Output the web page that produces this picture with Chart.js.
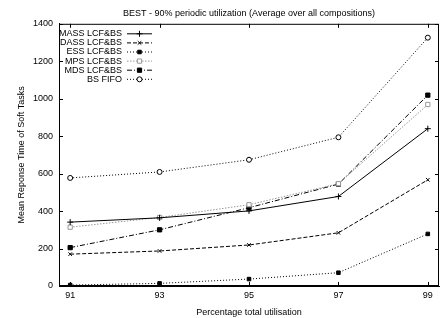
<!DOCTYPE html>
<html>
<head>
<meta charset="utf-8">
<script src="https://cdn.jsdelivr.net/npm/chart.js@4"></script>
<style>
  html, body { margin: 0; padding: 0; background: #fff; }
  #wrap { width: 444px; height: 318px; }
</style>
</head>
<body>
<div id="wrap"><canvas id="myChart" width="444" height="318"></canvas></div>
<script>
const utilisation = [91, 93, 95, 97, 99];
const yTicks = [0, 200, 400, 600, 800, 1000, 1200, 1400];

const massValues = [341, 364, 401, 478, 840];
const dassValues = [170, 187, 219, 284, 567];
const essValues  = [5, 14, 37, 71, 278];
const mpsValues  = [314, 366, 434, 546, 969];
const mdsValues  = [205, 300, 418, 544, 1019];
const fifoValues = [577, 609, 674, 794, 1326];

const FONT = '"Liberation Sans", Arial, Helvetica, sans-serif';

function pts(values) {
    return utilisation.map((u, i) => ({ x: u, y: values[i] }));
}

function series(label, values, color, dash, style, radius, fill) {
    return {
        label: label,
        data: pts(values),
        borderColor: color,
        backgroundColor: fill,
        borderWidth: 1,
        borderDash: dash,
        pointStyle: style,
        pointRadius: radius,
        pointBorderColor: color,
        pointBackgroundColor: fill,
        pointBorderWidth: 1,
        tension: 0,
        fill: false
    };
}

const datasets = [
    series('MASS LCF&BS', massValues, '#000', [], 'cross', 3, '#000'),
    series('DASS LCF&BS', dassValues, '#000', [4, 2], 'crossRot', 2.5, '#000'),
    series('ESS LCF&BS', essValues, '#000', [1, 2], 'rect', 2.5, '#000'),
    series('MPS LCF&BS', mpsValues, '#999', [1.5, 1.5], 'rect', 3, '#fff'),
    series('MDS LCF&BS', mdsValues, '#000', [5, 2, 1, 2], 'rect', 3, '#000'),
    series('BS FIFO', fifoValues, '#000', [1, 2], 'circle', 2.5, '#fff')
];

// gnuplot style frame, mirrored inward ticks and key
const framePlugin = {
    id: 'frame',
    afterDatasetsDraw(chart) {
        const c = chart.ctx, a = chart.chartArea;
        const xs = chart.scales.x, ys = chart.scales.y;
        c.save();
        c.strokeStyle = '#000';
        c.lineWidth = 1;
        c.setLineDash([]);
        c.strokeRect(a.left + 0.5, a.top + 0.5, a.right - a.left - 1, a.bottom - a.top - 1);
        c.beginPath();
        utilisation.forEach(u => {
            const px = Math.round(xs.getPixelForValue(u)) + 0.5;
            c.moveTo(px, a.bottom); c.lineTo(px, a.bottom - 4);
            c.moveTo(px, a.top); c.lineTo(px, a.top + 4);
        });
        yTicks.forEach(v => {
            const py = Math.round(ys.getPixelForValue(v)) + 0.5;
            c.moveTo(a.left, py); c.lineTo(a.left + 4, py);
            c.moveTo(a.right, py); c.lineTo(a.right - 4, py);
        });
        c.stroke();

        // key
        c.font = '9px ' + FONT;
        c.textAlign = 'right';
        c.textBaseline = 'middle';
        chart.data.datasets.forEach((ds, i) => {
            const y = a.top + 10 + i * 9.1;
            c.fillStyle = '#000';
            c.fillText(ds.label, 122, y);
            c.strokeStyle = ds.borderColor;
            c.setLineDash(ds.borderDash);
            c.beginPath();
            c.moveTo(127, y); c.lineTo(152, y);
            c.stroke();
            c.setLineDash([]);
            c.fillStyle = ds.pointBackgroundColor;
            c.strokeStyle = ds.pointBorderColor;
            Chart.helpers.drawPoint(c, { pointStyle: ds.pointStyle, radius: ds.pointRadius, rotation: 0, borderWidth: 1 }, 139.5, y);
        });
        c.restore();
    }
};

const ctx = document.getElementById('myChart');

new Chart(ctx, {
    type: 'line',
    data: { datasets: datasets },
    options: {
        responsive: false,
        animation: false,
        layout: { padding: { left: 0, right: 1, top: 0, bottom: 0 } },
        plugins: {
            legend: { display: false },
            tooltip: { enabled: false },
            title: {
                display: true,
                fullSize: false,
                text: 'BEST - 90% periodic utilization (Average over all compositions)',
                color: '#000',
                font: { family: FONT, size: 9, weight: 'normal' },
                padding: { top: 8, bottom: 5 }
            }
        },
        scales: {
            x: {
                type: 'linear',
                min: 90.75,
                max: 99.25,
                afterBuildTicks: s => { s.ticks = utilisation.map(v => ({ value: v })); },
                afterFit: s => { s.height = 32; },
                grid: { display: false, drawTicks: false },
                border: { display: true, color: '#000' },
                ticks: { color: '#000', padding: 4, font: { family: FONT, size: 9 }, callback: v => String(v) },
                title: {
                    display: true,
                    text: 'Percentage total utilisation',
                    color: '#000',
                    font: { family: FONT, size: 9 },
                    padding: { top: 4, bottom: 0 }
                }
            },
            y: {
                min: 0,
                max: 1400,
                afterBuildTicks: s => { s.ticks = yTicks.map(v => ({ value: v })); },
                afterFit: s => { s.width = 59; },
                grid: { display: false, drawTicks: false },
                border: { display: true, color: '#000' },
                ticks: { color: '#000', padding: 6, font: { family: FONT, size: 9 }, callback: v => String(v) },
                title: {
                    display: true,
                    text: 'Mean Reponse Time of Soft Tasks',
                    color: '#000',
                    font: { family: FONT, size: 9 },
                    padding: { top: 16, bottom: 0 }
                }
            }
        }
    },
    plugins: [framePlugin]
});
</script>
</body>
</html>
